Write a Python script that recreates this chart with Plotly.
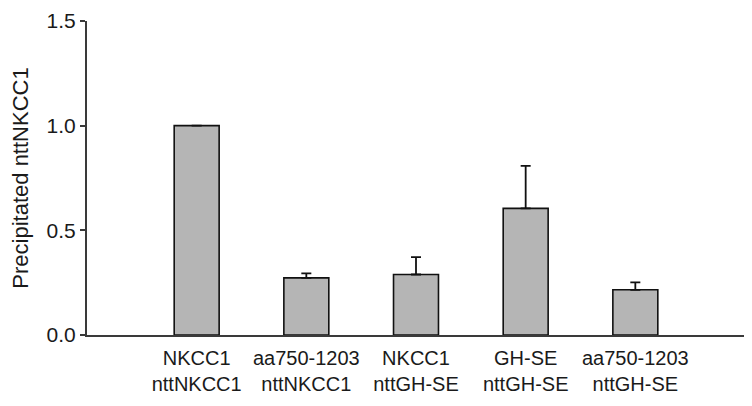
"""
Precipitated nttNKCC1 bar chart.
"""

import plotly.graph_objects as go

# data
categories = [
    "NKCC1<br>nttNKCC1",
    "aa750-1203<br>nttNKCC1",
    "NKCC1<br>nttGH-SE",
    "GH-SE<br>nttGH-SE",
    "aa750-1203<br>nttGH-SE",
]
values = [1.0, 0.273, 0.289, 0.605, 0.216]
errors_up = [0.0, 0.021, 0.083, 0.203, 0.035]
y_ticks = [0.0, 0.5, 1.0, 1.5]

FONT = "Liberation Sans, Arial, sans-serif"
INK = "#1a1a1a"

fig = go.Figure(go.Bar(
    x=categories,
    y=values,
    width=0.41,
    marker=dict(color="#b5b5b5", line=dict(color="#111111", width=1.6)),
    error_y=dict(
        type="data",
        symmetric=False,
        array=errors_up,
        arrayminus=[0] * len(errors_up),
        color="#111111",
        thickness=1.8,
        width=5,
    ),
    showlegend=False,
))

# the page puts the figure 8px in from the corner, margins take that into account
fig.update_layout(
    width=752,
    height=406,
    margin=dict(l=79, r=15, t=13, b=79),
    plot_bgcolor="white",
    paper_bgcolor="white",
    font=dict(family=FONT, size=20, color=INK),
)

fig.update_xaxes(
    range=[-1, 5],
    automargin=False,
    showline=True,
    linecolor="#3a3a3a",
    linewidth=2,
    showgrid=False,
    ticks="",
    tickfont=dict(size=20, color=INK),
    ticklabelstandoff=4,
    zeroline=False,
)

fig.update_yaxes(
    range=[0, 1.5],
    automargin=False,
    tickvals=y_ticks,
    tickformat=".1f",
    ticklabeloverflow="allow",
    showline=True,
    linecolor="#3a3a3a",
    linewidth=2,
    ticks="outside",
    ticklen=5,
    tickwidth=1.5,
    tickcolor="#3a3a3a",
    showgrid=False,
    zeroline=False,
    tickfont=dict(size=21, color=INK),
    title=dict(text="Precipitated nttNKCC1", font=dict(size=22, color=INK), standoff=16),
)

fig.write_html("out.html")
